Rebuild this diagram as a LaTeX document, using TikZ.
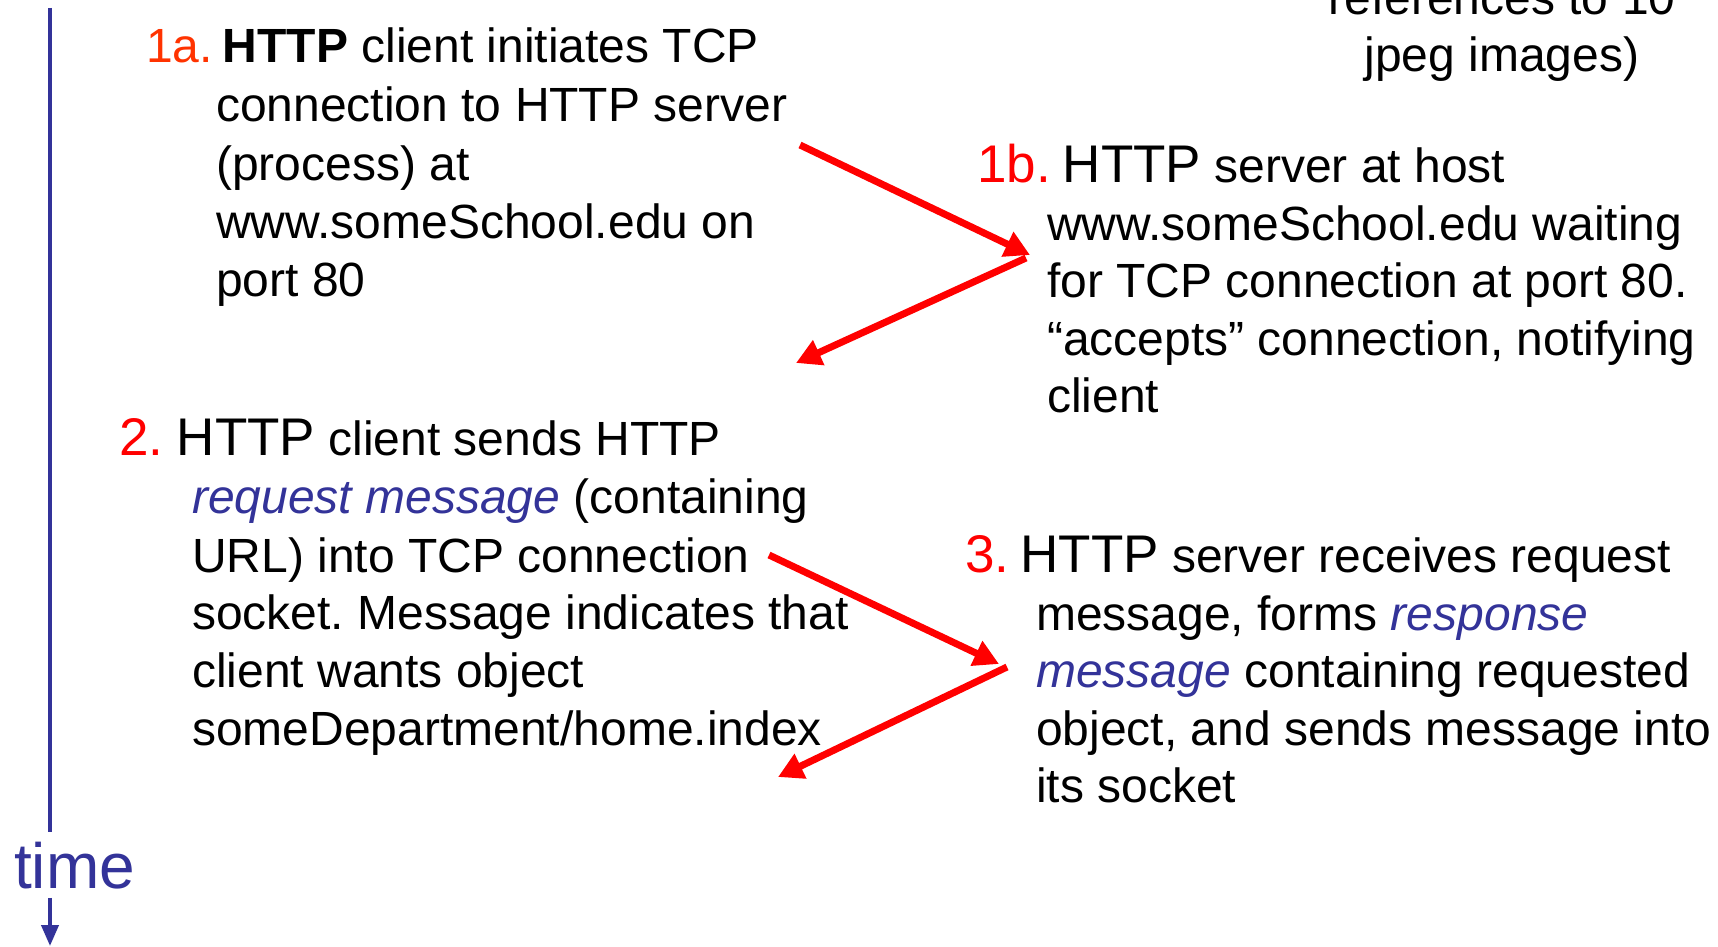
\documentclass[tikz,border=0pt]{standalone}
\usepackage{fontspec}
\setmainfont{Liberation Sans}
\usetikzlibrary{arrows.meta}
\definecolor{linkblue}{RGB}{51,51,153}
\definecolor{stepred}{RGB}{255,0,0}
\definecolor{orangered}{RGB}{255,51,0}
\newcommand\numsize{\fontsize{53}{60}\selectfont}
\frenchspacing
\begin{document}
\begin{tikzpicture}[x=1pt,y=-1pt,
  txt/.style={font=\fontsize{48}{58}\selectfont, inner sep=0pt, anchor=base west},
  ctr/.style={font=\fontsize{48}{58}\selectfont, inner sep=0pt, anchor=base},
  msgarrow/.style={draw=stepred, line width=7pt, -{Triangle[length=25pt,width=26pt]}},
  timeline/.style={draw=linkblue, line width=4pt}]
\fill[white] (0,0) rectangle (1718,947);
\useasboundingbox (0,0) rectangle (1718,947);

% time axis
\coordinate (ttop) at (50,8);
\coordinate (tend) at (50,946);
\node[font=\fontsize{64}{72}\selectfont, text=linkblue, inner xsep=0pt, inner ysep=9pt,
      anchor=base west] (timelbl) at (14,888) {time};
\draw[timeline] (ttop) -- (ttop |- timelbl.north);
\draw[timeline, -{Triangle[length=21pt,width=17pt]}] (ttop |- timelbl.south) -- (tend);

% object list, continued from above
\node[ctr] (ref1) at (1502,15) {references to 10};
\node[ctr] (ref2) at (1502,72) {jpeg images)};

% step 1a
\node[txt] (s1a1) at (146,63) {{\color{orangered}1a.}\hspace{10pt}\textbf{HTTP} client initiates TCP};
\node[txt] (s1a2) at (216,122) {connection to HTTP server};
\node[txt] (s1a3) at (216,180) {(process) at};
\node[txt] (s1a4) at (216,238) {www.someSchool.edu on};
\node[txt] (s1a5) at (216,296) {port 80};

% step 1b
\node[txt] (s1b1) at (977,182) {{\numsize\color{stepred}1b.}\hspace{12pt}{\numsize HTTP} server at host};
\node[txt] (s1b2) at (1047,240) {www.someSchool.edu waiting};
\node[txt] (s1b3) at (1047,297) {for TCP connection at port 80.};
\node[txt] (s1b4) at (1047,355) {“accepts” connection, notifying};
\node[txt] (s1b5) at (1047,412) {client};

% step 2
\node[txt] (s21) at (119,455) {{\numsize\color{stepred}2.}\hspace{13.5pt}{\numsize HTTP} client sends HTTP};
\node[txt] (s22) at (192,513) {{\color{linkblue}\itshape request message} (containing};
\node[txt] (s23) at (192,572) {URL) into TCP connection};
\node[txt] (s24) at (192,629) {socket. Message indicates that};
\node[txt] (s25) at (192,687) {client wants object};
\node[txt] (s26) at (192,745) {someDepartment/home.index};

% step 3
\node[txt] (s31) at (965,572) {{\numsize\color{stepred}3.}\hspace{11pt}{\numsize HTTP} server receives request};
\node[txt] (s32) at (1036,630) {message, forms {\color{linkblue}\itshape response}};
\node[txt] (s33) at (1036,687) {{\color{linkblue}\itshape message} containing requested};
\node[txt] (s34) at (1036,745) {object, and sends message into};
\node[txt] (s35) at (1036,802) {its socket};

% message exchange
\coordinate (a1s) at (800,145);
\coordinate (a1e) at (1030,255);
\coordinate (a2s) at (1026,258);
\coordinate (a2e) at (796,363);
\coordinate (a3s) at (769,555);
\coordinate (a3e) at (999,664);
\coordinate (a4s) at (1007,667);
\coordinate (a4e) at (778,777);
\draw[msgarrow] (a1s) -- (a1e);
\draw[msgarrow] (a2s) -- (a2e);
\draw[msgarrow] (a3s) -- (a3e);
\draw[msgarrow] (a4s) -- (a4e);
\end{tikzpicture}
\end{document}
